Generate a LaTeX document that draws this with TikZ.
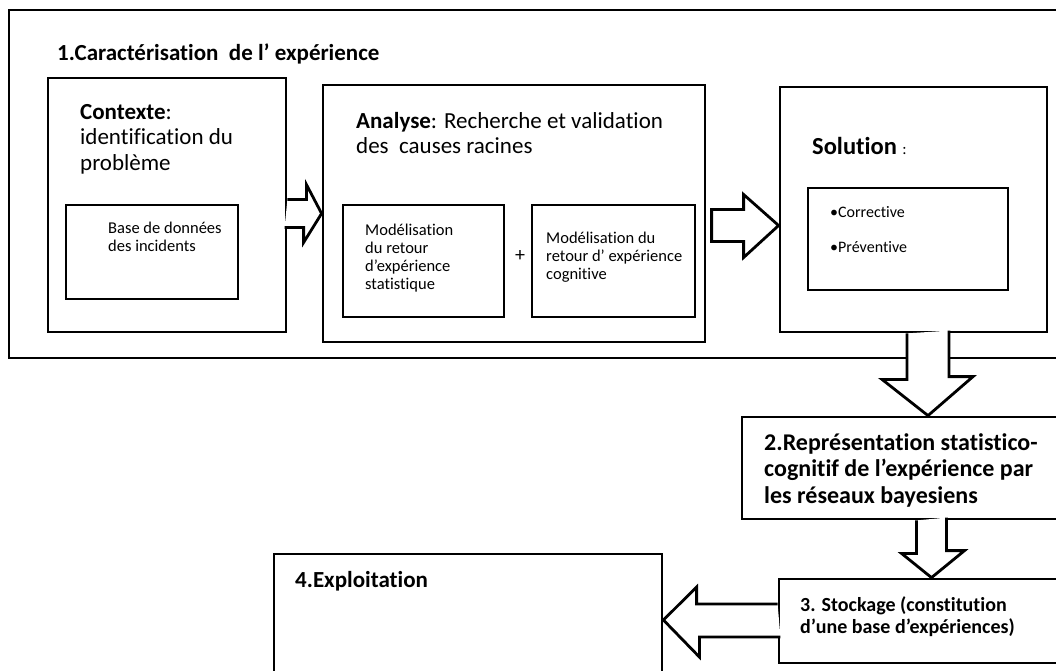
\documentclass[tikz,border=0pt]{standalone}
\usepackage{fontspec}
\setmainfont{Carlito}[Ligatures=NoCommon]
\usetikzlibrary{calc, positioning}
\tikzset{
  box/.style={draw, line width=2.8pt, inner sep=0pt},
  blockarrow/.style={draw, fill=white, line width=2.8pt, line join=miter},
  txt/.style={anchor=base west, inner sep=0pt, align=left},
}
\newcommand{\fsz}[2]{\fontsize{#1}{#2}\selectfont}

\begin{document}
\begin{tikzpicture}[x=1pt, y=-1pt]

\useasboundingbox (0,0) rectangle (1056,670);
\clip (0,0) rectangle (1056,670);

% 1. characterisation frame
\node[box, minimum width=1071pt, minimum height=348pt] (frame) at (544.5,184) {};
\node[txt, font=\fsz{23}{25}\bfseries] (title) at (57,60) {1.Caractérisation\ \ de l’ expérience};

% context (base = last line)
\node[box, minimum width=238pt, minimum height=254pt] (ctx) at (167,205) {};
\node[txt, font=\fsz{23}{25.5}] (ctxtext) at (80,170) {\textbf{Contexte}:\\identification du\\problème};
\node[box, minimum width=172pt, minimum height=94pt] (bdd) at (152,252) {};
\node[txt, font=\fsz{16.5}{18}] (bddtext) at (108,251) {Base de données\\des incidents};

% analysis
\node[box, minimum width=382pt, minimum height=257pt] (ana) at (514,213.5) {};
\node[txt, font=\fsz{23}{25}] (anatext) at (356,153) {\textbf{Analyse}: Recherche et validation\\des\ \ causes racines};
\node[box, minimum width=161pt, minimum height=112pt] (stat) at (423.5,261) {};
\node[txt, font=\fsz{16.5}{18}] (stattext) at (365,289) {Modélisation\\du retour\\d’expérience\\statistique};
\node[box, minimum width=163pt, minimum height=112pt] (cog) at (613.5,261) {};
\node[txt, font=\fsz{16.5}{18}] (cogtext) at (546,279) {Modélisation du\\retour d’ expérience\\cognitive};
\node[font=\fsz{20}{22}] (plus) at (520,256) {+};

% solution
\node[box, minimum width=267pt, minimum height=245pt] (sol) at (913.5,209.5) {};
\node[txt, font=\fsz{24.5}{26}] (soltext) at (812,154) {\textbf{Solution} {\fsz{16}{18}:}};
\node[box, minimum width=200pt, minimum height=102pt] (corr) at (908,239) {};
\node[txt, font=\fsz{16}{35}] (corrtext) at (830,252) {•Corrective\\•Préventive};

% steps 2 to 4
\node[box, minimum width=338pt, minimum height=102pt] (rep) at (911,468) {};
\node[txt, font=\fsz{24}{26.5}\bfseries] (reptext) at (764,503) {2.Représentation statistico-\\cognitif de l’expérience par\\les réseaux bayesiens};
\node[box, minimum width=301pt, minimum height=84pt] (sto) at (929.5,621) {};
\node[txt, font=\fsz{20}{22.5}\bfseries] (stotext) at (800,633.5) {3. Stockage (constitution\\d’une base d’expériences)};
\node[box, minimum width=388pt, minimum height=146pt] (exp) at (468,627) {};
\node[txt, font=\fsz{23}{25}\bfseries] (exptext) at (295,587) {4.Exploitation};

% block arrows
\coordinate (t2) at ($(sol.west)+(0,16)$);
\coordinate (t3) at ($(rep.north)+(17,0)$);
\coordinate (t4) at ($(sto.north)+(2,0)$);
\coordinate (t5) at ($(exp.east)+(0,-7)$);

\draw[blockarrow] (ctx.east |- ana.west) ++(0,-14) -- ++(19,0) -- ++(0,-15) -- (ana.west)
  -- ++(-18,29) -- ++(0,-15) -- ++(-19,0);
\draw[blockarrow] (t2) -- ++(-35,-31) -- ++(0,15) -- ++(-32,0) -- ++(0,32) -- ++(32,0)
  -- ++(0,16) -- cycle;
\draw[blockarrow] (t3 |- sol.south) ++(-21,0) -- ++(0,46) -- ++(-25,0) -- (t3)
  -- ++(45,-39) -- ++(-24,0) -- ++(0,-46);
\draw[blockarrow] (t4 |- rep.south) ++(-15,0) -- ++(0,33) -- ++(-15,0) -- (t4)
  -- ++(33,-27) -- ++(-18,0) -- ++(0,-33);
\draw[blockarrow] (t5 -| sto.west) ++(0,-16) -- ++(-81,0) -- ++(0,-17) -- (t5)
  -- ++(36,37) -- ++(0,-20) -- ++(81,0);

\end{tikzpicture}
\end{document}
